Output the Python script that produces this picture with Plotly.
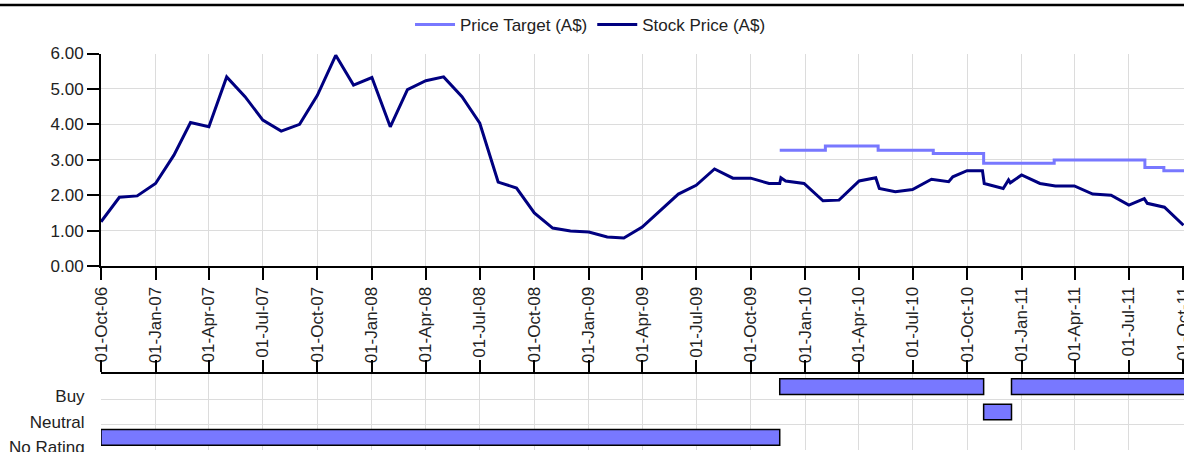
import plotly.graph_objects as go
import pandas as pd

# ---------------- data ----------------
price_dates = [
    "2006-10-01", "2006-11-01", "2006-12-01", "2007-01-01", "2007-02-01", "2007-03-01",
    "2007-04-01", "2007-05-01", "2007-06-01", "2007-07-01", "2007-08-01", "2007-09-01",
    "2007-10-01", "2007-11-01", "2007-12-01", "2008-01-01", "2008-02-01", "2008-03-01",
    "2008-04-01", "2008-05-01", "2008-06-01", "2008-07-01", "2008-08-01", "2008-09-01",
    "2008-10-01", "2008-11-01", "2008-12-01", "2009-01-01", "2009-02-01", "2009-03-01",
    "2009-04-01", "2009-05-01", "2009-06-01", "2009-07-01", "2009-08-01", "2009-09-01",
    "2009-10-01", "2009-11-01",
    "2009-11-19", "2009-11-21", "2009-11-29", "2009-12-30", "2010-01-31", "2010-02-27",
    "2010-04-02", "2010-04-30", "2010-05-06", "2010-06-02", "2010-07-01", "2010-08-02",
    "2010-08-31", "2010-09-07", "2010-10-01", "2010-10-27", "2010-10-30", "2010-12-01",
    "2010-12-10", "2010-12-13", "2011-01-01", "2011-02-01", "2011-02-27", "2011-03-31",
    "2011-05-01", "2011-06-01", "2011-07-01", "2011-07-27", "2011-08-01", "2011-08-30",
    "2011-10-01",
]
price_values = [
    1.25, 1.94, 1.98, 2.33, 3.13, 4.05,
    3.93, 5.34, 4.78, 4.12, 3.81, 4.00,
    4.82, 5.95, 5.11, 5.32, 3.93, 4.98,
    5.23, 5.34, 4.78, 4.03, 2.37, 2.20,
    1.50, 1.07, 0.99, 0.96, 0.82, 0.79,
    1.10, 1.55, 2.03, 2.28, 2.74, 2.48,
    2.48, 2.33,
    2.33, 2.49, 2.40, 2.33, 1.84, 1.86,
    2.40, 2.49, 2.19, 2.10, 2.16, 2.45,
    2.38, 2.52, 2.69, 2.69, 2.33, 2.19,
    2.43, 2.35, 2.57, 2.33, 2.26, 2.26,
    2.03, 2.00, 1.72, 1.90, 1.77, 1.66,
    1.15,
]

target_dates = ["2009-11-19", "2010-02-04", "2010-05-04", "2010-08-05",
                "2010-10-29", "2011-02-25", "2011-07-28", "2011-08-29", "2011-10-02"]
target_values = [3.27, 3.39, 3.27, 3.18, 2.90, 2.99, 2.78, 2.69, 2.69]

rating_labels = ["No Rating", "Neutral", "Buy"]
rating_start = ["2006-10-01", "2009-11-19", "2010-10-29", "2010-12-15"]
rating_end = ["2009-11-19", "2010-10-29", "2010-12-15", "2011-10-20"]
rating_cat = ["No Rating", "Buy", "Neutral", "Buy"]

# ---------------- styling ----------------
FONT = "Liberation Sans, Arial, sans-serif"
FS = 17
TXT = "#222222"
GRID = "#dcdcdc"
NAVY = "#000080"
LIGHT = "#7878ff"
W, H = 1184, 452
L = 101

def fy(px_from_top):
    return (H - px_from_top) / H

fig = go.Figure()

fig.add_trace(go.Scatter(
    x=target_dates, y=target_values, mode="lines", line_shape="hv",
    line=dict(color=LIGHT, width=3), name="Price Target (A$)",
    xaxis="x", yaxis="y"))
fig.add_trace(go.Scatter(
    x=price_dates, y=price_values, mode="lines",
    line=dict(color=NAVY, width=3), name="Stock Price (A$)",
    xaxis="x", yaxis="y"))

cat_pos = {c: i for i, c in enumerate(rating_labels)}
starts = pd.to_datetime(rating_start)
ends = pd.to_datetime(rating_end)
durs = [(e - s).total_seconds() * 1000 for s, e in zip(starts, ends)]
fig.add_trace(go.Bar(
    base=rating_start, x=durs, y=[cat_pos[c] for c in rating_cat],
    orientation="h", width=0.62,
    marker=dict(color=LIGHT, line=dict(color="#000000", width=1.5)),
    showlegend=False, xaxis="x2", yaxis="y2", hoverinfo="skip"))

xrange = ["2006-10-01", "2011-10-02"]

fig.update_layout(
    width=W, height=H,
    margin=dict(l=L, r=0, t=0, b=0, autoexpand=False),
    paper_bgcolor="white", plot_bgcolor="white",
    font=dict(family=FONT, size=FS, color=TXT),
    showlegend=True,
    legend=dict(orientation="h", x=0.452, xanchor="center", y=fy(7), yanchor="top",
                font=dict(family=FONT, size=FS, color=TXT),
                bgcolor="rgba(0,0,0,0)", itemwidth=40, tracegroupgap=0),
    xaxis=dict(
        type="date", range=xrange, domain=[0, 1], anchor="y",
        tick0="2006-10-01", dtick="M3", tickformat="%d-%b-%y", tickangle=-90,
        ticks="outside", ticklen=12, tickwidth=2, tickcolor="#000",
        showline=True, linecolor="#000", linewidth=2,
        showgrid=True, gridcolor=GRID, gridwidth=1,
        tickfont=dict(family=FONT, size=FS, color=TXT), ticklabeloverflow="allow",
        zeroline=False, automargin=False),
    yaxis=dict(
        range=[0, 6], domain=[fy(266), fy(53.5)], anchor="x",
        dtick=1, tickformat=".2f",
        ticks="outside", ticklen=12, tickwidth=2, tickcolor="#000",
        showline=True, linecolor="#000", linewidth=2,
        showgrid=True, gridcolor=GRID, gridwidth=1, zeroline=False,
        tickfont=dict(family=FONT, size=FS, color=TXT), ticklabeloverflow="allow",
        automargin=False),
    xaxis2=dict(
        type="date", range=xrange, domain=[0, 1], anchor="y2", side="top",
        tick0="2006-10-01", dtick="M3", showticklabels=False,
        ticks="outside", ticklen=12, tickwidth=2, tickcolor="#000",
        showline=True, linecolor="#000", linewidth=2,
        showgrid=True, gridcolor=GRID, gridwidth=1, zeroline=False,
        automargin=False),
    yaxis2=dict(
        range=[-0.5, 2.5], domain=[fy(450), fy(374)], anchor="x2",
        tickvals=[i - 0.38 for i in range(len(rating_labels))], ticktext=rating_labels,
        ticks="outside", ticklen=12, tickcolor="rgba(0,0,0,0)",
        showgrid=False, showline=False, zeroline=False,
        minor=dict(tickvals=[0.5, 1.5], showgrid=True, gridcolor=GRID, gridwidth=1, ticks=""),
        tickfont=dict(family=FONT, size=FS, color=TXT), ticklabeloverflow="allow",
        automargin=False),
    shapes=[dict(type="line", xref="paper", yref="paper",
                 x0=-L / (W - L), x1=1.0, y0=fy(5), y1=fy(5),
                 line=dict(color="#000", width=2.5))],
)

fig.write_html("out.html",
               config={"displayModeBar": False},
               post_script="document.body.style.margin='0';document.body.style.overflow='hidden';")
